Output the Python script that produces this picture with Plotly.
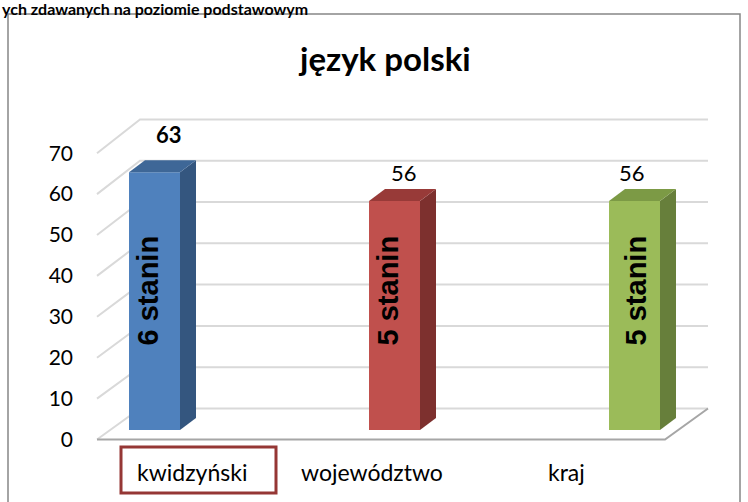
import plotly.graph_objects as go

# ---- data ----
CATEGORIES = ["kwidzyński", "województwo", "kraj"]
VALUES = [63, 56, 56]
STANIN = ["6 stanin", "5 stanin", "5 stanin"]
TICKS = [0, 10, 20, 30, 40, 50, 60, 70]
TITLE = "język polski"
HEADER = "ych zdawanych na poziomie podstawowym"

# ---- style ----
FRONT_COLORS = ["#4F81BD", "#C0504D", "#9BBB59"]
SIDE_COLORS = ["#34567F", "#7D302E", "#677F3B"]
TOP_COLORS = ["#3E6797", "#983A38", "#7C9A45"]
GRID_COLOR = "#D9D9D9"
FLOOR_COLOR = "#A6A6A6"

W, H = 748, 502
X0_PX, SX = 154.5, 240.0      # px of category 0 (bar front), px per category
Y0_PX, SY = 430.0, 4.09       # px of value 0 at bar front, px per unit
LBL0_PX = 439.5               # px of value 0 at front edge (axis labels)
BACK_SY = 4.13                # px per unit on back wall

XR = [-X0_PX / SX, (W - X0_PX) / SX]
YR_BAR = [-(H - Y0_PX) / SY, Y0_PX / SY]
YR_AX = [-(H - LBL0_PX) / SY, LBL0_PX / SY]

BAR_W = 51 / SX
SIDE_DX, SIDE_DY = 16 / SX, 12 / SY
DEPTH_DX, DEPTH_DY = 43 / SX, 31 / SY
X_LEFT = (97 - X0_PX) / SX
X_RIGHT = (665 - X0_PX) / SX
STANIN_Y = 34
STANIN_DX = [-7 / SX, -7 / SX, 1 / SX]
VAL_DX = [0.06, 0.04, -0.01]
VAL_DY = [5.5, 3.1, 3.1]
CAT_X_PX = [192, 372, 566]

fig = go.Figure()

# back wall grid + diagonals (main subplot, drawn underneath; axis units = label units)
gx, gy = [], []
for v in TICKS:
    yb = DEPTH_DY + v * BACK_SY / SY
    gx += [X_LEFT, X_LEFT + DEPTH_DX, X_RIGHT + DEPTH_DX, None]
    gy += [v, yb, yb, None]
fig.add_trace(go.Scatter(x=gx, y=gy, mode="lines",
                         line=dict(color=GRID_COLOR, width=2),
                         hoverinfo="skip", showlegend=False))
# floor front edge
fig.add_trace(go.Scatter(
    x=[X_LEFT, X_RIGHT, X_RIGHT + DEPTH_DX],
    y=[0, 0, DEPTH_DY],
    mode="lines", line=dict(color=FLOOR_COLOR, width=2),
    hoverinfo="skip", showlegend=False))

# bars (overlay subplot, drawn on top)
idx = list(range(len(CATEGORIES)))
fig.add_trace(go.Bar(x=idx, y=VALUES, width=BAR_W,
                     marker=dict(color=FRONT_COLORS, line=dict(width=0)),
                     xaxis="x2", yaxis="y2", hoverinfo="skip", showlegend=False))
for i, v in zip(idx, VALUES):
    xr = i + BAR_W / 2
    xl = i - BAR_W / 2
    fig.add_trace(go.Scatter(
        x=[xr, xr + SIDE_DX, xr + SIDE_DX, xr, xr],
        y=[0, SIDE_DY, v + SIDE_DY, v, 0],
        fill="toself", fillcolor=SIDE_COLORS[i], mode="lines",
        line=dict(width=0, color=SIDE_COLORS[i]),
        xaxis="x2", yaxis="y2", hoverinfo="skip", showlegend=False))
    fig.add_trace(go.Scatter(
        x=[xl, xr, xr + SIDE_DX, xl + SIDE_DX, xl],
        y=[v, v, v + SIDE_DY, v + SIDE_DY, v],
        fill="toself", fillcolor=TOP_COLORS[i], mode="lines",
        line=dict(width=0, color=TOP_COLORS[i]),
        xaxis="x2", yaxis="y2", hoverinfo="skip", showlegend=False))

annotations = []
for i, v in zip(idx, VALUES):
    annotations.append(dict(
        x=i + STANIN_DX[i], y=STANIN_Y, xref="x2", yref="y2", text=STANIN[i],
        textangle=-90, showarrow=False, xanchor="center", yanchor="middle",
        font=dict(family="Liberation Sans", size=29, color="black", weight="bold")))
    annotations.append(dict(
        x=i + VAL_DX[i], y=v + VAL_DY[i], xref="x2", yref="y2", text=str(v),
        showarrow=False, xanchor="center", yanchor="bottom",
        font=dict(family="Lato", size=22, color="black",
                  weight="bold" if i == 0 else "normal")))
for i, c in enumerate(CATEGORIES):
    annotations.append(dict(
        x=CAT_X_PX[i] / W, y=1 - 472 / H, xref="paper", yref="paper", text=c,
        showarrow=False, xanchor="center", yanchor="middle",
        font=dict(family="Lato", size=23, color="black")))
annotations.append(dict(
    x=384 / W, y=1 - 58 / H, xref="paper", yref="paper", text=TITLE,
    showarrow=False, xanchor="center", yanchor="middle",
    font=dict(family="Lato", size=33, color="black", weight="bold")))
annotations.append(dict(
    x=0, y=1 + 3 / H, xref="paper", yref="paper", text=HEADER,
    showarrow=False, xanchor="left", yanchor="top",
    font=dict(family="Lato", size=16, color="black", weight="bold")))

shapes = [
    dict(type="rect", xref="paper", yref="paper",
         x0=8 / W, x1=740 / W, y0=-10 / H, y1=1 - 14 / H,
         line=dict(color="#868686", width=1.5), fillcolor="rgba(0,0,0,0)"),
    dict(type="rect", xref="paper", yref="paper",
         x0=121 / W, x1=276 / W, y0=1 - 493 / H, y1=1 - 447 / H,
         line=dict(color="#953735", width=3), fillcolor="rgba(0,0,0,0)"),
]

fig.update_layout(
    width=W, height=H,
    margin=dict(l=0, r=0, t=0, b=0),
    paper_bgcolor="white", plot_bgcolor="rgba(0,0,0,0)",
    showlegend=False,
    xaxis=dict(range=XR, visible=False, domain=[0, 1]),
    yaxis=dict(range=YR_AX, domain=[0, 1], anchor="free", position=73 / W,
               side="left", tickvals=TICKS, ticktext=[str(t) for t in TICKS],
               showgrid=False, zeroline=False, showline=False, ticks="",
               tickfont=dict(family="Lato", size=21, color="black")),
    xaxis2=dict(range=XR, visible=False, overlaying="x", anchor="y2"),
    yaxis2=dict(range=YR_BAR, visible=False, overlaying="y", anchor="x2"),
    annotations=annotations,
    shapes=shapes,
)

fig.write_html("out.html", config={"displayModeBar": False},
               post_script="document.body.style.margin='0';")
